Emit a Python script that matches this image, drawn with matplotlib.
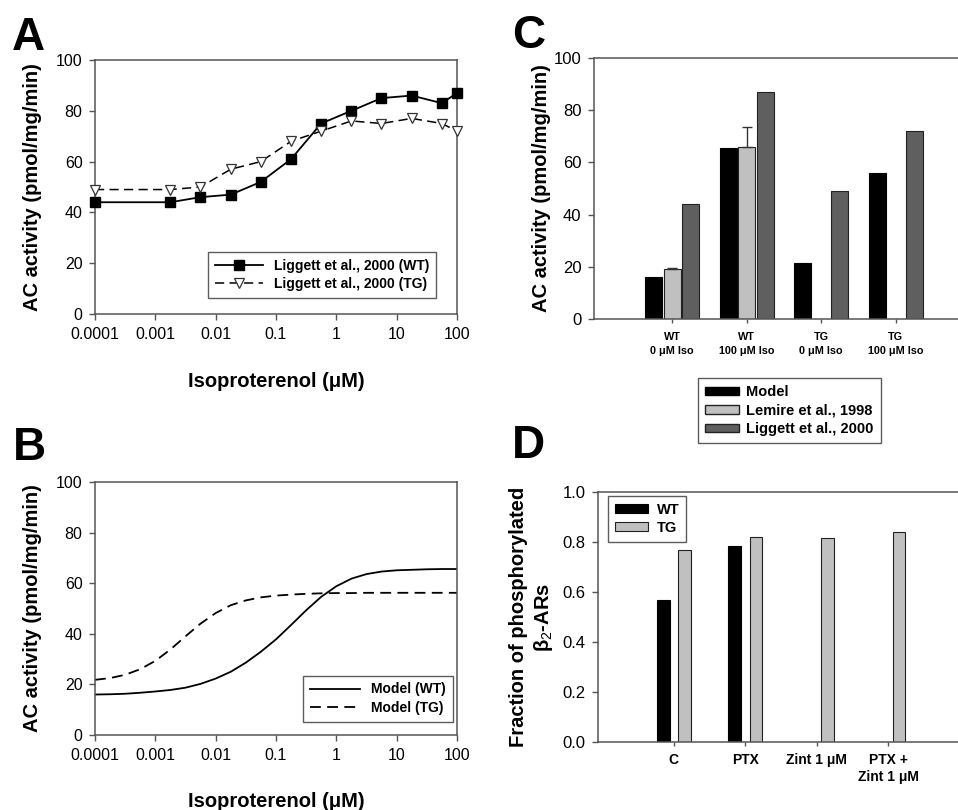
import numpy as np
import matplotlib
matplotlib.use("Agg")
import matplotlib.pyplot as plt
from matplotlib.patches import Patch
from matplotlib import font_manager

plt.rcParams['font.family'] = ['Liberation Sans', 'DejaVu Sans']
plt.rcParams['mathtext.fontset'] = 'custom'
plt.rcParams['mathtext.rm'] = 'Liberation Sans'
plt.rcParams['mathtext.bf'] = 'Liberation Sans:bold'

# ---------------- data ----------------
# Panel A (Liggett et al., 2000)
iso_a = [0.0001, 0.00178, 0.0056, 0.0178, 0.056, 0.178, 0.56, 1.78, 5.6, 17.8, 56, 100]
ligg_wt = [44, 44, 46, 47, 52, 61, 75, 80, 85, 86, 83, 87]
ligg_tg = [49, 49, 50, 57, 60, 68, 72, 76, 75, 77, 75, 72]

# Panel B (model curves, read at quarter decades)
iso_b = [1e-4, 1.78e-4, 3.16e-4, 5.6e-4, 1e-3, 1.78e-3, 3.16e-3, 5.6e-3, 1e-2,
         1.78e-2, 3.16e-2, 5.6e-2, 0.1, 0.178, 0.316, 0.56, 1, 1.78, 3.16, 5.6,
         10, 17.8, 31.6, 56, 100]
model_wt = [16.0, 16.1, 16.3, 16.7, 17.2, 17.8, 18.7, 20.2, 22.3, 25.0, 28.6,
            32.9, 37.8, 43.5, 49.3, 54.6, 58.8, 61.8, 63.6, 64.6, 65.1, 65.3,
            65.5, 65.6, 65.6]
model_tg = [21.8, 22.5, 23.8, 26.0, 29.3, 33.8, 39.0, 44.0, 48.2, 51.3, 53.2,
            54.4, 55.1, 55.5, 55.8, 56.0, 56.1, 56.1, 56.2, 56.2, 56.2, 56.2,
            56.2, 56.2, 56.2]

# Panel C
c_groups = ["WT\n0 μM Iso", "WT\n100 μM Iso", "TG\n0 μM Iso", "TG\n100 μM Iso"]
c_model = [16, 65.5, 21.5, 56]
c_lemire = [19, 66, np.nan, np.nan]
c_lemire_err = [0.7, 7.5, 0, 0]
c_liggett = [44, 87, 49, 72]

# Panel D
d_groups = ["C", "PTX", "Zint 1 μM", "PTX +\nZint 1 μM"]
d_wt = [0.57, 0.785, np.nan, np.nan]
d_tg = [0.77, 0.82, 0.815, 0.84]

# ---------------- figure ----------------
W, H = 958, 810
fig = plt.figure(figsize=(W / 100, H / 100), dpi=100)

def add_ax(l, t, r, b):
    return fig.add_axes([l / W, 1 - b / H, (r - l) / W, (b - t) / H])

SPINE = '#555555'

def style(ax, tsize):
    for s in ax.spines.values():
        s.set_color(SPINE)
        s.set_linewidth(1.1)
    ax.tick_params(direction='out', length=4, width=1, color=SPINE,
                   labelsize=tsize, pad=5)

lab_kw = dict(fontsize=14.5, fontweight='bold')

# narrow font for panel C tick labels if available
names = {f.name for f in font_manager.fontManager.ttflist}
if 'Liberation Sans Narrow' in names:
    c_tick_font = dict(family='Liberation Sans Narrow', fontsize=10.2)
else:
    c_tick_font = dict(family='Liberation Sans', fontsize=7.8)

# ---- Panel A ----
axA = add_ax(95, 60, 457, 314)
style(axA, 11.5)
axA.plot(iso_a, ligg_wt, '-', color='black', lw=1.3, marker='s', ms=6.5,
         mfc='black', mec='black', label='Liggett et al., 2000 (WT)', clip_on=False,
         zorder=3)
axA.plot(iso_a, ligg_tg, '--', color='black', lw=1.1, dashes=(6, 3.5), marker='v',
         ms=7.5, mfc='white', mec='#333333', mew=0.9, label='Liggett et al., 2000 (TG)',
         clip_on=False, zorder=3)
axA.set_xscale('log')
axA.set_xlim(1e-4, 100)
axA.set_ylim(0, 100)
axA.set_xticks([1e-4, 1e-3, 1e-2, 1e-1, 1, 10, 100])
axA.set_xticklabels(['0.0001', '0.001', '0.01', '0.1', '1', '10', '100'])
axA.minorticks_off()
axA.set_yticks(range(0, 101, 20))
axA.set_ylabel('AC activity (pmol/mg/min)', labelpad=10, **lab_kw)
axA.set_xlabel('Isoproterenol (μM)', labelpad=22, **lab_kw)
legA = axA.legend(loc='lower right', bbox_to_anchor=(0.942, 0.063), borderaxespad=0,
                  frameon=True, fancybox=False, edgecolor='#333333', handlelength=3.4,
                  prop=dict(size=10, weight='bold'), borderpad=0.5, labelspacing=0.3)
legA.get_frame().set_linewidth(1)

# ---- Panel B ----
axB = add_ax(95, 482, 457, 735)
style(axB, 11.5)
axB.plot(iso_b, model_wt, '-', color='black', lw=1.3, label='Model (WT)')
axB.plot(iso_b, model_tg, '--', color='black', lw=1.3, dashes=(6, 3.5), label='Model (TG)')
axB.set_xscale('log')
axB.set_xlim(1e-4, 100)
axB.set_ylim(0, 100)
axB.set_xticks([1e-4, 1e-3, 1e-2, 1e-1, 1, 10, 100])
axB.set_xticklabels(['0.0001', '0.001', '0.01', '0.1', '1', '10', '100'])
axB.minorticks_off()
axB.set_yticks(range(0, 101, 20))
axB.set_ylabel('AC activity (pmol/mg/min)', labelpad=10, **lab_kw)
axB.set_xlabel('Isoproterenol (μM)', labelpad=21, **lab_kw)
legB = axB.legend(loc='lower right', bbox_to_anchor=(0.988, 0.053), borderaxespad=0,
                  frameon=True, fancybox=False, edgecolor='#333333', handlelength=3.6,
                  prop=dict(size=10, weight='bold'), borderpad=0.5, labelspacing=0.3)
legB.get_frame().set_linewidth(1)

# ---- Panel C ----
c_first, c_step = 672.3, 74.5
c_left, c_right = 594, 985
axC = add_ax(c_left, 58, c_right, 319)
style(axC, 12)
xc = np.arange(len(c_groups))
bw = 0.228
off = 0.247
axC.bar(xc - off, c_model, bw, color='black', edgecolor='black', lw=0.8, label='Model')
axC.bar(xc, c_lemire, bw, color='#c0c0c0', edgecolor='#222222', lw=0.8,
        label='Lemire et al., 1998')
axC.errorbar(xc[:2], np.array(c_lemire[:2]),
             yerr=[np.zeros(2), np.array(c_lemire_err[:2])],
             fmt='none', ecolor='#333333', elinewidth=1, capsize=3.5, capthick=1)
axC.bar(xc + off, c_liggett, bw, color='#5f5f5f', edgecolor='#222222', lw=0.8,
        label='Liggett et al., 2000')
axC.set_xlim(-(c_first - c_left) / c_step, (c_right - c_first) / c_step)
axC.set_ylim(0, 100)
axC.set_yticks(range(0, 101, 20))
axC.set_xticks(xc)
axC.tick_params(axis='x', length=3, pad=6)
axC.set_xticklabels(c_groups, fontweight='bold', linespacing=1.55, **c_tick_font)
axC.set_ylabel('AC activity (pmol/mg/min)', labelpad=2, **lab_kw)
hC = [Patch(facecolor='black', edgecolor='black', label='Model'),
      Patch(facecolor='#c0c0c0', edgecolor='#222222', label='Lemire et al., 1998'),
      Patch(facecolor='#5f5f5f', edgecolor='#222222', label='Liggett et al., 2000')]
legC = fig.legend(handles=hC, loc='upper left', bbox_to_anchor=(698 / W, 1 - 378 / H),
                  borderaxespad=0, frameon=True, fancybox=False, edgecolor='#333333',
                  handlelength=2.3, handleheight=0.5, prop=dict(size=10.5, weight='bold'),
                  borderpad=0.5, labelspacing=0.3, handletextpad=0.5)
legC.get_frame().set_linewidth(1)

# ---- Panel D ----
d_first, d_step = 673.8, 71.5
d_left, d_right = 598, 985
axD = add_ax(d_left, 492, d_right, 742)
style(axD, 12)
xd = np.arange(len(d_groups))
bwd = 0.18
offd = 0.15
axD.bar(xd - offd, d_wt, bwd, color='black', edgecolor='black', lw=0.8, label='WT')
axD.bar(xd + offd, d_tg, bwd, color='#c0c0c0', edgecolor='#222222', lw=0.8, label='TG')
axD.set_xlim(-(d_first - d_left) / d_step, (d_right - d_first) / d_step)
axD.set_ylim(0, 1.0)
axD.set_yticks(np.arange(0, 1.01, 0.2))
axD.set_yticklabels(['0.0', '0.2', '0.4', '0.6', '0.8', '1.0'])
axD.set_xticks(xd)
axD.tick_params(axis='x', length=3, pad=5)
axD.set_xticklabels(d_groups, fontsize=10, fontweight='bold', linespacing=1.3)
axD.set_ylabel('Fraction of phosphorylated\nβ$_2$-ARs', labelpad=5,
               linespacing=1.25, **lab_kw)
legD = axD.legend(loc='upper left', bbox_to_anchor=(608 / W, 1 - 496 / H),
                  bbox_transform=fig.transFigure, borderaxespad=0, frameon=True,
                  fancybox=False, edgecolor='#333333', handlelength=2.3,
                  handleheight=0.55, prop=dict(size=10.5, weight='bold'),
                  borderpad=0.45, labelspacing=0.3, handletextpad=0.6)
legD.get_frame().set_linewidth(1)

# ---- panel letters ----
for txt, x, y in [('A', 12, 50), ('B', 13, 460), ('C', 512, 48), ('D', 512, 458)]:
    fig.text(x / W, 1 - y / H, txt, fontsize=33, fontweight='bold',
             ha='left', va='baseline')

fig.savefig('out.png', dpi=100)
